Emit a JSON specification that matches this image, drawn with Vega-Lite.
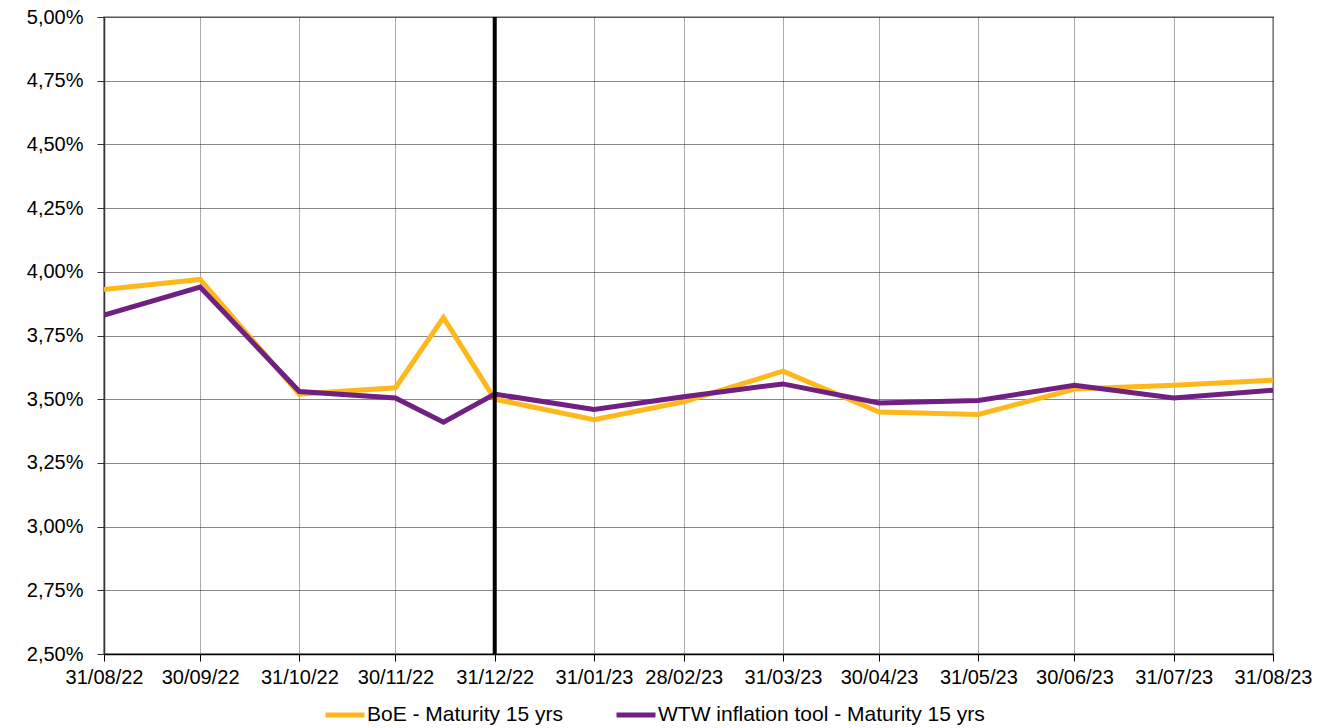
{
  "$schema": "https://vega.github.io/schema/vega-lite/v6.json",
  "width": 1169,
  "height": 637,
  "autosize": {"type": "none"},
  "padding": {"left": 104, "top": 17, "right": 64, "bottom": 74},
  "background": "white",
  "config": {
    "view": {"stroke": "#8c8c8c", "strokeWidth": 1.5},
    "font": "Liberation Sans"
  },
  "datasets": {
    "series": [
      {"date": "2022-08-31", "series": "BoE - Maturity 15 yrs", "value": 0.0393},
      {"date": "2022-09-30", "series": "BoE - Maturity 15 yrs", "value": 0.0397},
      {"date": "2022-10-31", "series": "BoE - Maturity 15 yrs", "value": 0.0352},
      {"date": "2022-11-30", "series": "BoE - Maturity 15 yrs", "value": 0.03545},
      {"date": "2022-12-15", "series": "BoE - Maturity 15 yrs", "value": 0.0382},
      {"date": "2022-12-31", "series": "BoE - Maturity 15 yrs", "value": 0.0350},
      {"date": "2023-01-31", "series": "BoE - Maturity 15 yrs", "value": 0.0342},
      {"date": "2023-02-28", "series": "BoE - Maturity 15 yrs", "value": 0.0349},
      {"date": "2023-03-31", "series": "BoE - Maturity 15 yrs", "value": 0.0361},
      {"date": "2023-04-30", "series": "BoE - Maturity 15 yrs", "value": 0.0345},
      {"date": "2023-05-31", "series": "BoE - Maturity 15 yrs", "value": 0.0344},
      {"date": "2023-06-30", "series": "BoE - Maturity 15 yrs", "value": 0.0354},
      {"date": "2023-07-31", "series": "BoE - Maturity 15 yrs", "value": 0.03555},
      {"date": "2023-08-31", "series": "BoE - Maturity 15 yrs", "value": 0.03575},
      {"date": "2022-08-31", "series": "WTW inflation tool - Maturity 15 yrs", "value": 0.0383},
      {"date": "2022-09-30", "series": "WTW inflation tool - Maturity 15 yrs", "value": 0.0394},
      {"date": "2022-10-31", "series": "WTW inflation tool - Maturity 15 yrs", "value": 0.0353},
      {"date": "2022-11-30", "series": "WTW inflation tool - Maturity 15 yrs", "value": 0.03505},
      {"date": "2022-12-15", "series": "WTW inflation tool - Maturity 15 yrs", "value": 0.0341},
      {"date": "2022-12-31", "series": "WTW inflation tool - Maturity 15 yrs", "value": 0.0352},
      {"date": "2023-01-31", "series": "WTW inflation tool - Maturity 15 yrs", "value": 0.0346},
      {"date": "2023-02-28", "series": "WTW inflation tool - Maturity 15 yrs", "value": 0.0351},
      {"date": "2023-03-31", "series": "WTW inflation tool - Maturity 15 yrs", "value": 0.0356},
      {"date": "2023-04-30", "series": "WTW inflation tool - Maturity 15 yrs", "value": 0.03485},
      {"date": "2023-05-31", "series": "WTW inflation tool - Maturity 15 yrs", "value": 0.03495},
      {"date": "2023-06-30", "series": "WTW inflation tool - Maturity 15 yrs", "value": 0.03555},
      {"date": "2023-07-31", "series": "WTW inflation tool - Maturity 15 yrs", "value": 0.03505},
      {"date": "2023-08-31", "series": "WTW inflation tool - Maturity 15 yrs", "value": 0.03535}
    ],
    "marker": [{"date": "2022-12-31"}]
  },
  "layer": [
    {
      "data": {"name": "series"},
      "mark": {"type": "line", "strokeWidth": 5, "strokeJoin": "miter", "clip": true},
      "encoding": {
        "x": {
          "field": "date",
          "type": "temporal",
          "scale": {"type": "utc", "domain": [{"year": 2022, "month": 8, "date": 31, "utc": true}, {"year": 2023, "month": 8, "date": 31, "utc": true}]},
          "axis": {
            "title": null,
            "format": "%d/%m/%y",
            "values": [
              {"year": 2022, "month": 8, "date": 31, "utc": true},
              {"year": 2022, "month": 9, "date": 30, "utc": true},
              {"year": 2022, "month": 10, "date": 31, "utc": true},
              {"year": 2022, "month": 11, "date": 30, "utc": true},
              {"year": 2022, "month": 12, "date": 31, "utc": true},
              {"year": 2023, "month": 1, "date": 31, "utc": true},
              {"year": 2023, "month": 2, "date": 28, "utc": true},
              {"year": 2023, "month": 3, "date": 31, "utc": true},
              {"year": 2023, "month": 4, "date": 30, "utc": true},
              {"year": 2023, "month": 5, "date": 31, "utc": true},
              {"year": 2023, "month": 6, "date": 30, "utc": true},
              {"year": 2023, "month": 7, "date": 31, "utc": true},
              {"year": 2023, "month": 8, "date": 31, "utc": true}
            ],
            "labelFont": "Liberation Sans",
            "labelFontSize": 20,
            "labelColor": "#000000",
            "labelPadding": 6,
            "labelAngle": 0,
            "labelOverlap": false,
            "labelFlush": false,
            "domainColor": "#000000",
            "domainWidth": 1.5,
            "tickColor": "#000000",
            "tickSize": 7,
            "grid": true,
            "gridColor": "#555555",
            "gridDash": [1, 1],
            "gridWidth": 1
          }
        },
        "y": {
          "field": "value",
          "type": "quantitative",
          "scale": {"domain": [0.025, 0.05], "nice": false, "zero": false},
          "axis": {
            "title": null,
            "values": [0.025, 0.0275, 0.03, 0.0325, 0.035, 0.0375, 0.04, 0.0425, 0.045, 0.0475, 0.05],
            "labelExpr": "replace(format(datum.value, '.2%'), '.', ',')",
            "labelFont": "Liberation Sans",
            "labelFontSize": 20,
            "labelColor": "#000000",
            "labelPadding": 14,
            "domainColor": "#333333",
            "domainWidth": 1.5,
            "tickColor": "#333333",
            "tickSize": 7,
            "grid": true,
            "gridColor": "#111111",
            "gridDash": [1, 1],
            "gridWidth": 1
          }
        },
        "color": {
          "field": "series",
          "type": "nominal",
          "scale": {"domain": ["BoE - Maturity 15 yrs", "WTW inflation tool - Maturity 15 yrs"], "range": ["#FFB81C", "#702082"]},
          "legend": {
            "title": null,
            "orient": "none",
            "direction": "horizontal",
            "legendX": 219,
            "legendY": 676,
            "symbolType": "stroke",
            "symbolSize": 1521,
            "symbolStrokeWidth": 5,
            "labelFont": "Liberation Sans",
            "labelFontSize": 21,
            "labelColor": "#000000",
            "labelOffset": 0,
            "columnPadding": 42,
            "labelLimit": 500
          }
        }
      }
    },
    {
      "data": {"name": "marker"},
      "mark": {"type": "rule", "color": "#000000", "strokeWidth": 4},
      "encoding": {
        "x": {"field": "date", "type": "temporal"}
      }
    }
  ]
}
